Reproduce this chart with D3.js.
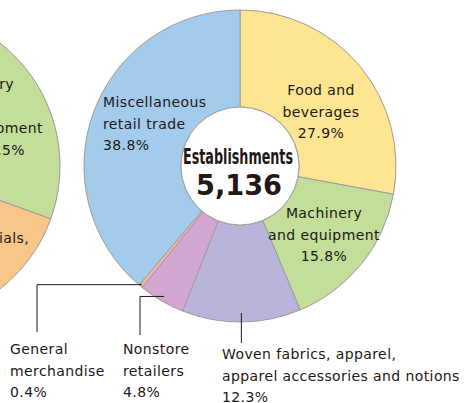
<!DOCTYPE html>
<html>
<head>
<meta charset="utf-8">
<script src="https://cdn.jsdelivr.net/npm/d3@7"></script>
<style>
body { margin: 0; background: #fff; }
svg { display: block; }
text { font-family: "DejaVu Sans", sans-serif; font-size: 14px; fill: #231815; letter-spacing: 0.4px; }
</style>
</head>
<body>
<svg></svg>
<script>
// main chart: retail trade establishments by industry
const categories = ['Food and beverages', 'Machinery and equipment',
    'Woven fabrics, apparel, apparel accessories and notions',
    'Nonstore retailers', 'General merchandise', 'Miscellaneous retail trade'];
const shares = [27.9, 15.8, 12.3, 4.8, 0.4, 38.8];
const colors = ['#fee592', '#c2de98', '#b9b3da', '#d2a6cf', '#f4b4aa', '#a3cbec'];
const labelLines = [
    ['Food and', 'beverages', '27.9%'],
    ['Machinery', 'and equipment', '15.8%'],
    ['Woven fabrics, apparel,', 'apparel accessories and notions', '12.3%'],
    ['Nonstore', 'retailers', '4.8%'],
    ['General', 'merchandise', '0.4%'],
    ['Miscellaneous', 'retail trade', '38.8%']
];
const totalLabel = 'Establishments',
    totalValue = '5,136';

// neighbouring chart, only its right edge shows
const leftCategories = ['Machinery and equipment', 'Raw materials', 'Other'];
const leftShares = [30.5, 20.0, 49.5];
const leftColors = ['#c2de98', '#f9c689', '#e8e8e8'];
const leftLabelLines = [['Machinery', 'equipment', '30.5%'], ['materials,']];

var width = 474, height = 403,
    outerR = 156, innerR = 59,
    cx = 240, cy = 166,
    leftCx = -96,
    lineH = 21.5;

var svg = d3.select('svg')
    .attr('width', width)
    .attr('height', height);

var pie = d3.pie().sort(null).value(function(d) { return d; });
var arc = d3.arc().innerRadius(innerR).outerRadius(outerR);

// left donut
var leftG = svg.append('g')
    .attr('transform', 'translate(' + leftCx + ',' + cy + ')');

leftG.selectAll('path')
    .data(pie(leftShares))
  .enter().append('path')
    .attr('d', arc)
    .attr('fill', function(d, i) { return leftColors[i]; })
    .attr('stroke', '#9c9c9c')
    .attr('stroke-width', 1);

// the visible ends of the cut off labels
var leftLabelPos = [
    [{x: 14, y: 89}, {x: 43, y: 133}, {x: 25, y: 155}],
    [{x: 29, y: 243}]
];
leftLabelLines.forEach(function(lines, i) {
    lines.forEach(function(t, j) {
        svg.append('text')
            .attr('x', leftLabelPos[i][j].x)
            .attr('y', leftLabelPos[i][j].y)
            .attr('text-anchor', 'end')
            .text(t);
    });
});

// main donut
var chart = svg.append('g')
    .attr('transform', 'translate(' + cx + ',' + cy + ')');

var slices = pie(shares);

chart.selectAll('path')
    .data(slices)
  .enter().append('path')
    .attr('d', arc)
    .attr('fill', function(d, i) { return colors[i]; })
    .attr('stroke', '#9c9c9c')
    .attr('stroke-width', 1);

chart.append('circle')
    .attr('r', innerR)
    .attr('fill', '#fff')
    .attr('stroke', '#9c9c9c')
    .attr('stroke-width', 1);

chart.append('text')
    .attr('x', -2)
    .attr('y', -2)
    .attr('text-anchor', 'middle')
    .attr('textLength', 110)
    .attr('lengthAdjust', 'spacingAndGlyphs')
    .style('font-size', '21px')
    .style('font-weight', 'bold')
    .style('letter-spacing', '0')
    .style('font-family', '"Liberation Sans Narrow", "DejaVu Sans Condensed", "Liberation Sans", sans-serif')
    .text(totalLabel);

chart.append('text')
    .attr('x', -1)
    .attr('y', 29)
    .attr('text-anchor', 'middle')
    .attr('textLength', 86)
    .attr('lengthAdjust', 'spacingAndGlyphs')
    .style('font-size', '28px')
    .style('font-weight', 'bold')
    .style('letter-spacing', '0')
    .text(totalValue);

// point on a slice's middle angle
function polar(d, r) {
    var a = (d.startAngle + d.endAngle) / 2;
    return [cx + r * Math.sin(a), cy - r * Math.cos(a)];
}

// label anchors (page coordinates), leader lines for the small slices
var labelLayout = [
    {x: 321, y: 95, anchor: 'middle'},
    {x: 324, y: 218, anchor: 'middle'},
    {x: 222, y: 359, anchor: 'start', leader: {r: 147, bendY: 343}},
    {x: 123, y: 354, anchor: 'start', leader: {r: 151, bendX: 140, endY: 335}},
    {x: 10, y: 354, anchor: 'start', leader: {r: 154, bendX: 37, endY: 332}},
    {x: 103, y: 107, anchor: 'start'}
];

labelLayout.forEach(function(l, i) {
    var g = svg.append('g');
    labelLines[i].forEach(function(t, j) {
        g.append('text')
            .attr('x', l.x)
            .attr('y', l.y + j * lineH)
            .attr('text-anchor', l.anchor)
            .text(t);
    });
    if (l.leader) {
        var p = polar(slices[i], l.leader.r), pts;
        if (l.leader.bendX !== undefined) {
            pts = [p, [l.leader.bendX, p[1]], [l.leader.bendX, l.leader.endY]];
        } else {
            pts = [p, [p[0], l.leader.bendY]];
        }
        svg.append('path')
            .attr('d', d3.line()(pts))
            .attr('fill', 'none')
            .attr('stroke', '#231815')
            .attr('stroke-width', 1);
    }
});
</script>
</body>
</html>
